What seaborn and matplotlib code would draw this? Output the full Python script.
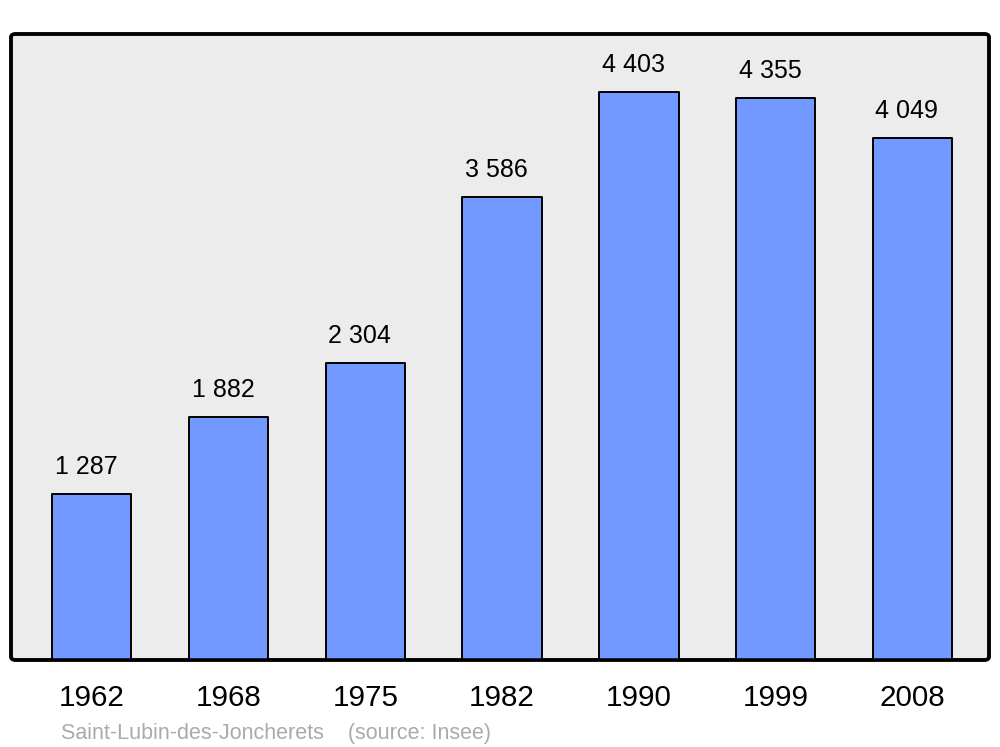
import matplotlib
matplotlib.use("Agg")
import matplotlib.pyplot as plt
import seaborn as sns
import pandas as pd
from matplotlib.patches import FancyBboxPatch

years = ["1962", "1968", "1975", "1982", "1990", "1999", "2008"]
population = [1287, 1882, 2304, 3586, 4403, 4355, 4049]
value_labels = ["1 287", "1 882", "2 304", "3 586", "4 403", "4 355", "4 049"]
footer = "Saint-Lubin-des-Joncherets    (source: Insee)"

sns.set_style("white")
plt.rcParams["font.family"] = ["Liberation Sans", "DejaVu Sans"]

fig = plt.figure(figsize=(10, 7.47), dpi=100)
ax = fig.add_axes([0.011, 0.1165, 0.978, 0.838])
ax.set_facecolor("none")

df = pd.DataFrame({"year": years, "pop": population})
sns.barplot(data=df, x="year", y="pop", ax=ax, color="#7299FF", saturation=1,
            width=0.58, edgecolor="black", linewidth=1.4, zorder=3)
for p in ax.patches:
    p.set_joinstyle("round")

for i, (v, lab) in enumerate(zip(population, value_labels)):
    ax.annotate(lab, xy=(i, v), xytext=(-4, 19.5), textcoords="offset points",
                ha="center", va="center", fontsize=18, color="black", zorder=5)

ax.set_xlim(-0.59, 6.56)
ax.set_ylim(0, 4853)
for s in ax.spines.values():
    s.set_visible(False)

frame = FancyBboxPatch((0, 0), 1, 1, boxstyle="round,pad=0,rounding_size=0.005",
                       transform=ax.transAxes, facecolor="#ECECEC", edgecolor="black",
                       linewidth=2.5, zorder=0, clip_on=False)
ax.add_patch(frame)
frame2 = FancyBboxPatch((0, 0), 1, 1, boxstyle="round,pad=0,rounding_size=0.005",
                        transform=ax.transAxes, facecolor="none", edgecolor="black",
                        linewidth=2.5, zorder=4, clip_on=False)
ax.add_patch(frame2)

ax.set_xlabel("")
ax.set_ylabel("")
ax.set_yticks([])
ax.tick_params(axis="x", length=0, pad=17, labelsize=21.3, colors="black")

fig.text(0.061, 0.0225 - 0.004, footer, fontsize=15.5, color="#AAAAAA", ha="left", va="center")

fig.savefig("out.png", dpi=100, facecolor="white")
